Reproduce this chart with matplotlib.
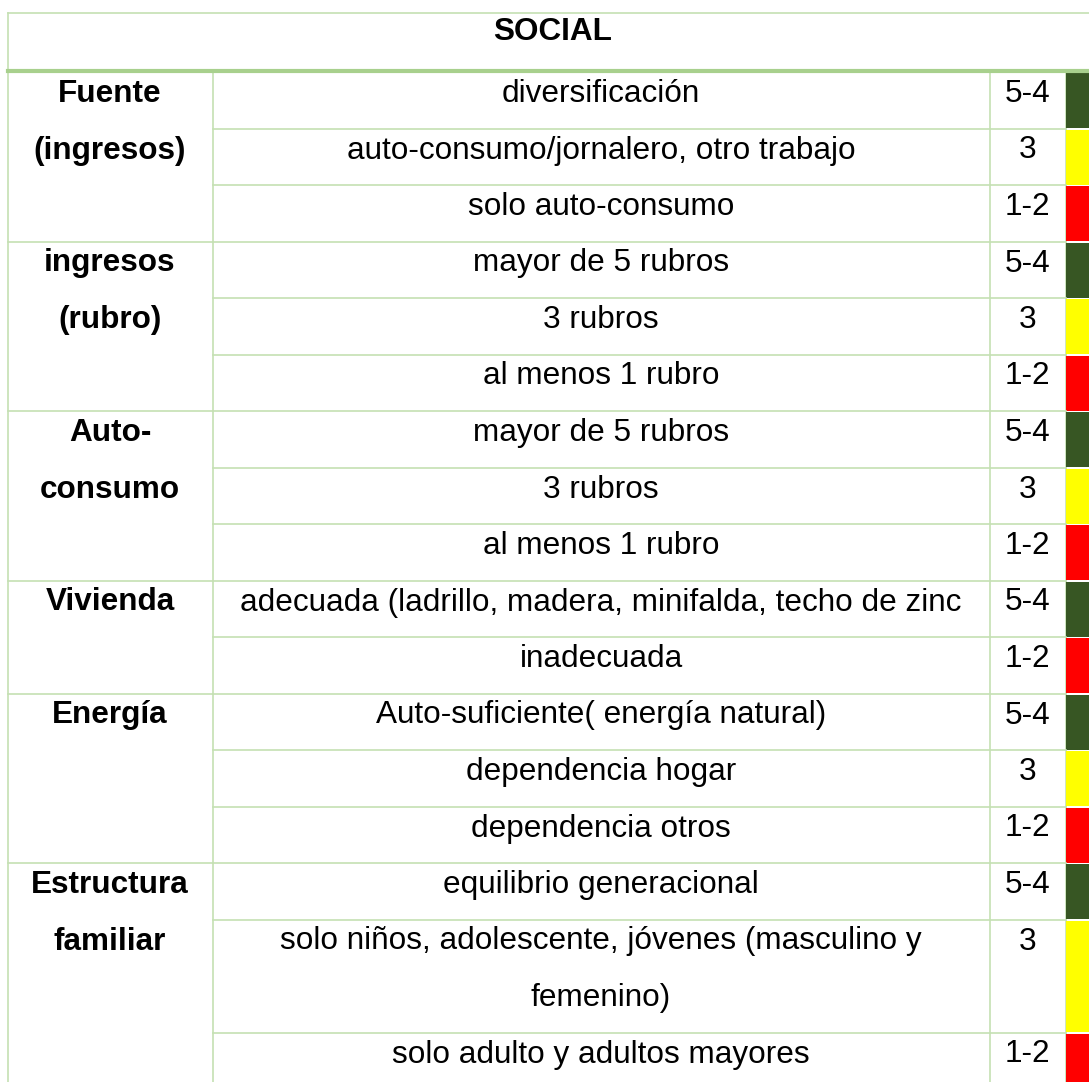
import matplotlib.pyplot as plt
from matplotlib.patches import Rectangle

plt.rcParams['font.family'] = ['Liberation Sans', 'DejaVu Sans']

title = 'SOCIAL'
groups = [['Fuente', '(ingresos)'], ['ingresos', '(rubro)'], ['Auto-', 'consumo'],
          ['Vivienda'], ['Energía'], ['Estructura', 'familiar']]
group_sizes = [3, 3, 3, 2, 3, 3]
descriptions = [
    ['diversificación'],
    ['auto-consumo/jornalero, otro trabajo'],
    ['solo auto-consumo'],
    ['mayor de 5 rubros'],
    ['3 rubros'],
    ['al menos 1 rubro'],
    ['mayor de 5 rubros'],
    ['3 rubros'],
    ['al menos 1 rubro'],
    ['adecuada (ladrillo, madera, minifalda, techo de zinc'],
    ['inadecuada'],
    ['Auto-suficiente( energía natural)'],
    ['dependencia hogar'],
    ['dependencia otros'],
    ['equilibrio generacional'],
    ['solo niños, adolescente, jóvenes (masculino y', 'femenino)'],
    ['solo adulto y adultos mayores'],
]
scores = ['5-4', '3', '1-2', '5-4', '3', '1-2', '5-4', '3', '1-2',
          '5-4', '1-2', '5-4', '3', '1-2', '5-4', '3', '1-2']
score_colors = {'5-4': '#375623', '3': '#FFFF00', '1-2': '#FF0000'}

W, H = 1089, 1082
x_left, x_mid, x_score, x_col, x_right = 7.5, 212.5, 989.5, 1065.5, 1089
y_top, y_head = 12.5, 71
pitch = 56.5
base = 30  # baseline offset from top of a text line
line_c = '#C5E0B3'
fs = 22.7

fig = plt.figure(figsize=(W / 100, H / 100), dpi=100)
ax = fig.add_axes([0, 0, 1, 1])
ax.set_xlim(0, W)
ax.set_ylim(H, 0)
ax.axis('off')

# header
ax.plot([x_left, x_right], [y_top, y_top], color=line_c, lw=1.2)
ax.plot([x_left, x_left], [y_top, H], color=line_c, lw=1.2)
ax.text(553, 40, title, ha='center', va='baseline', fontsize=fs, fontweight='bold')

# body rows
y = y_head + 1
row_tops = []
for desc, sc in zip(descriptions, scores):
    n = len(desc)
    row_tops.append(y)
    for k, line in enumerate(desc):
        ax.text((x_mid + x_score) / 2, y + k * pitch + base, line, ha='center', va='baseline',
                fontsize=fs)
    ax.text((x_score + x_col) / 2, y + base, sc, ha='center', va='baseline', fontsize=fs)
    ax.add_patch(Rectangle((x_col + 0.5, y + 1), x_right - x_col, n * pitch - 1.5,
                           facecolor=score_colors[sc], edgecolor='none', zorder=1))
    y += n * pitch
    ax.plot([x_mid, x_col], [y, y], color=line_c, lw=1.2)

# group labels and group separators
i = 0
for lab, size in zip(groups, group_sizes):
    top = row_tops[i]
    for k, line in enumerate(lab):
        ax.text((x_left + x_mid) / 2, top + k * pitch + base, line, ha='center', va='baseline',
                fontsize=fs, fontweight='bold')
    i += size
    if i < len(row_tops):
        ax.plot([x_left, x_mid], [row_tops[i], row_tops[i]], color=line_c, lw=1.2)

for xv in (x_mid, x_score, x_col):
    ax.plot([xv, xv], [y_head, H], color=line_c, lw=1.2, zorder=0.5)

ax.plot([x_left, x_right], [y_head, y_head], color='#A8D08D', lw=3, zorder=3)

fig.savefig('out.png', dpi=100)
